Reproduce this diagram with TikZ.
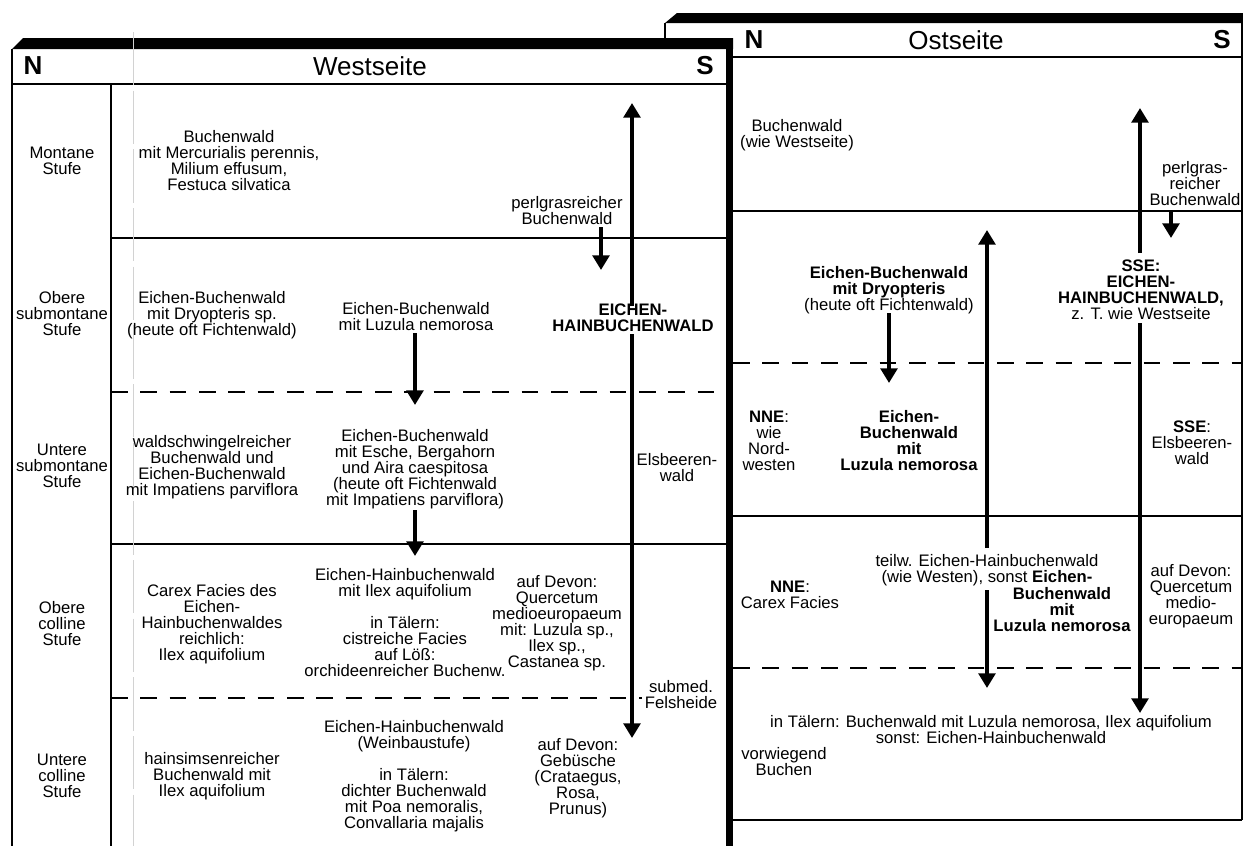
\documentclass[tikz,border=0pt]{standalone}
\usepackage{fontspec}
\setmainfont{Liberation Sans}
\usetikzlibrary{arrows.meta}
\tikzset{
  myhead/.tip={Triangle[length=11pt,width=12.5pt]},
  txt/.style={font=\fontsize{12.5}{12}\selectfont, align=center, inner sep=0pt},
  btxt/.style={txt, font=\fontsize{12.5}{12}\selectfont\bfseries},
  hdr/.style={font=\fontsize{19.5}{20}\selectfont, inner sep=0pt},
  bhdr/.style={hdr, font=\fontsize{19.5}{20}\selectfont\bfseries},
  rowline/.style={line width=1.3pt},
  rowdash/.style={line width=1.3pt, dash pattern=on 12.5pt off 9.5pt},
  frame/.style={line width=1.3pt},
  arr/.style={line width=3.4pt, -myhead},
}
\begin{document}
\begin{tikzpicture}[x=0.75pt,y=-0.75pt]
\useasboundingbox (0,0) rectangle (1243,846);

% ---------- Ostseite panel (behind) ----------
\fill (665,23) -- (677,13) -- (1243,13) -- (1243,23) -- cycle;
\draw[frame] (665,23) -- (665,39);
\draw[frame] (1242,23) -- (1242,820);
\draw[rowline] (733,57) -- (1242,57);
\draw[rowline] (733,211) -- (1242,211);
\draw[rowdash] (733,363) -- (1242,363);
\draw[rowline] (733,516) -- (1242,516);
\draw[rowdash] (733,668) -- (1242,668);
\draw[rowline] (733,820) -- (1242,820);

\node[bhdr] (oN) at (754,40) {N};
\node[hdr] (oTitle) at (956,40) {Ostseite};
\node[bhdr] (oS) at (1222,40) {S};

% ---------- Westseite panel ----------
\fill (12,49) -- (23,38) -- (733,38) -- (733,49) -- cycle;
\fill (726,38) rectangle (733,846);
\draw[frame] (12,49) -- (12,846);
\draw[frame] (111,84) -- (111,846);
\draw[rowline] (12,84) -- (726,84);
\draw[rowline] (111,238) -- (726,238);
\draw[rowdash] (111,392) -- (726,392);
\draw[rowline] (111,544) -- (726,544);
\draw[rowdash] (111,698) -- (726,698);
\draw[gray!35, line width=0.4pt, dash pattern=on 40pt off 4pt] (133,32) -- (133,846);

\node[bhdr] (wN) at (33,66) {N};
\node[hdr] (wTitle) at (370,66) {Westseite};
\node[bhdr] (wS) at (705,66) {S};

% altitude belts
\node[txt] (b1) at (62,161) {Montane\\Stufe};
\node[txt] (b2) at (62,314) {Obere\\submontane\\Stufe};
\node[txt] (b3) at (62,466) {Untere\\submontane\\Stufe};
\node[txt] (b4) at (62,624) {Obere\\colline\\Stufe};
\node[txt] (b5) at (62,776) {Untere\\colline\\Stufe};

% west: montane
\node[txt] (wMont) at (229,161) {Buchenwald\\mit Mercurialis perennis,\\Milium effusum,\\Festuca silvatica};
\node[txt] (wPerl) at (567,211) {perlgrasreicher\\Buchenwald};
% west: obere submontane
\node[txt] (wDry) at (212,315) {Eichen-Buchenwald\\mit Dryopteris sp.\\(heute oft Fichtenwald)};
\node[txt] (wLuz) at (416,317) {Eichen-Buchenwald\\mit Luzula nemorosa};
\node[btxt] (wEH) at (633,317.5) {EICHEN-\\HAINBUCHENWALD};
% west: untere submontane
\node[txt] (wWald) at (212,467) {waldschwingelreicher\\Buchenwald und\\Eichen-Buchenwald\\mit Impatiens parviflora};
\node[txt] (wEsche) at (415,469.5) {Eichen-Buchenwald\\mit Esche, Bergahorn\\und Aira caespitosa\\(heute oft Fichtenwald\\mit Impatiens parviflora)};
\node[txt] (wElsb) at (677,468) {Elsbeeren-\\wald};
% west: obere colline
\node[txt] (wCarex) at (212,624) {Carex Facies des\\Eichen-\\Hainbuchenwaldes\\reichlich:\\Ilex aquifolium};
\node[txt] (wIlex) at (405,623) {Eichen-Hainbuchenwald\\mit Ilex aquifolium\\[12pt]in Tälern:\\cistreiche Facies\\auf Löß:\\orchideenreicher Buchenw.};
\node[txt] (wDev1) at (557,623) {auf Devon:\\Quercetum\\medioeuropaeum\\mit: Luzula sp.,\\Ilex sp.,\\Castanea sp.};
% west: untere colline
\node[txt] (wHain) at (212,776) {hainsimsenreicher\\Buchenwald mit\\Ilex aquifolium};
\node[txt] (wWein) at (414,776) {Eichen-Hainbuchenwald\\(Weinbaustufe)\\[12pt]in Tälern:\\dichter Buchenwald\\mit Poa nemoralis,\\Convallaria majalis};
\node[txt] (wDev2) at (578,778) {auf Devon:\\Gebüsche\\(Crataegus,\\Rosa,\\Prunus)};

% west arrows
\coordinate (wPerlA) at (601,227);
\coordinate (wPerlB) at (601,270);
\draw[arr] (wPerlA) -- (wPerlB);
\coordinate (wLuzA) at (415,333);
\coordinate (wLuzB) at (415,405);
\draw[arr] (wLuzA) -- (wLuzB);
\coordinate (wEscheA) at (415,510);
\coordinate (wEscheB) at (415,556);
\draw[arr] (wEscheA) -- (wEscheB);
\coordinate (wEHtop) at (632,103);
\coordinate (wEHa) at (632,306);
\coordinate (wEHb) at (632,334);
\coordinate (wEHbot) at (632,738);
\draw[arr] (wEHa) -- (wEHtop);
\draw[arr] (wEHb) -- (wEHbot);

\node[txt,fill=white,inner sep=2pt] (wFels) at (681,695) {submed.\\Felsheide};

% ---------- Ostseite texts ----------
\node[txt] (oBuch) at (797,135) {Buchenwald\\(wie Westseite)};
\node[txt] (oPerl) at (1195,184) {perlgras-\\reicher\\Buchenwald};
\node[txt] (oDry) at (889,290) {\textbf{Eichen-Buchenwald}\\\textbf{mit Dryopteris}\\(heute oft Fichtenwald)};
\node[txt] (oSSE1) at (1141,289.5) {\textbf{SSE:}\\\textbf{EICHEN-}\\\textbf{HAINBUCHENWALD,}\\z. T. wie Westseite};
\node[txt] (oNNE1) at (769,441) {\textbf{NNE}:\\wie\\Nord-\\westen};
\node[btxt] (oLuz) at (909,441) {Eichen-\\Buchenwald\\mit\\Luzula nemorosa};
\node[txt] (oSSE2) at (1192,443) {\textbf{SSE}:\\Elsbeeren-\\wald};
\node[txt] (oNNE2) at (790,595) {\textbf{NNE}:\\Carex Facies};
\node[txt] (oTeil) at (987,570) {teilw. Eichen-Hainbuchenwald\\(wie Westen), sonst \textbf{Eichen-}};
\node[btxt] (oTeil2) at (1062,610) {Buchenwald\\mit\\Luzula nemorosa};
\node[txt] (oDev) at (1191,596) {auf Devon:\\Quercetum\\medio-\\europaeum};
\node[txt] (oTal) at (991,730) {in Tälern: Buchenwald mit Luzula nemorosa, Ilex aquifolium\\sonst: Eichen-Hainbuchenwald};
\node[txt] (oVorw) at (784,762) {vorwiegend\\Buchen};

% east arrows
\coordinate (oPerlA) at (1171,210);
\coordinate (oPerlB) at (1171,238);
\draw[arr] (oPerlA) -- (oPerlB);
\coordinate (oDryA) at (889,313);
\coordinate (oDryB) at (889,383);
\draw[arr] (oDryA) -- (oDryB);
\coordinate (oMidTop) at (987,230);
\coordinate (oMidA) at (987,548);
\coordinate (oMidB) at (987,590);
\coordinate (oMidBot) at (987,688);
\draw[arr] (oMidA) -- (oMidTop);
\draw[arr] (oMidB) -- (oMidBot);
\coordinate (oSSEtop) at (1140,108);
\coordinate (oSSEa) at (1140,253);
\coordinate (oSSEb) at (1140,323);
\coordinate (oSSEbot) at (1140,713);
\draw[arr] (oSSEa) -- (oSSEtop);
\draw[arr] (oSSEb) -- (oSSEbot);
\end{tikzpicture}
\end{document}
